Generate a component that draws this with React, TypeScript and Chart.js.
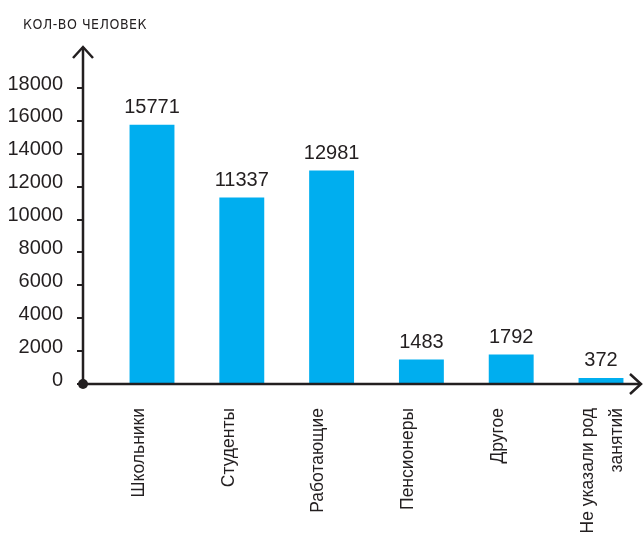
import { useEffect, useRef } from "react";
import { Chart, registerables } from "chart.js";

Chart.register(...registerables);

const axisTitle = "КОЛ-ВО ЧЕЛОВЕК";
const categories: string[][] = [
  ["Школьники"],
  ["Студенты"],
  ["Работающие"],
  ["Пенсионеры"],
  ["Другое"],
  ["Не указали род", "занятий"],
];
const values: number[] = [15771, 11337, 12981, 1483, 1792, 372];
const yMin = 0;
const yMax = 18000;
const yStep = 2000;

const INK = "#231f20";
const BAR = "#00aeef";
const NUM_FONT = "'Liberation Sans', Arial, sans-serif";

const decorPlugin = {
  id: "decor",
  afterDatasetsDraw(chart: any) {
    const { ctx, chartArea, scales } = chart;
    const meta = chart.getDatasetMeta(0);
    ctx.save();
    ctx.fillStyle = INK;
    ctx.font = `20px ${NUM_FONT}`;
    ctx.textAlign = "center";
    ctx.textBaseline = "alphabetic";
    meta.data.forEach((bar: any, i: number) => {
      ctx.fillText(String(values[i]), bar.x, bar.y - 12);
    });

    const x0 = chartArea.left;
    const y0 = scales.y.getPixelForValue(0);
    const yTop = chartArea.top - 41;
    const xEnd = chart.width - 2;
    ctx.strokeStyle = INK;
    ctx.lineWidth = 2.5;
    ctx.lineJoin = "miter";
    ctx.beginPath();
    ctx.moveTo(x0, y0);
    ctx.lineTo(xEnd, y0);
    ctx.moveTo(x0, y0);
    ctx.lineTo(x0, yTop);
    ctx.stroke();
    ctx.beginPath();
    ctx.moveTo(xEnd - 11, y0 - 10);
    ctx.lineTo(xEnd, y0);
    ctx.lineTo(xEnd - 11, y0 + 10);
    ctx.moveTo(x0 - 10, yTop + 11);
    ctx.lineTo(x0, yTop);
    ctx.lineTo(x0 + 10, yTop + 11);
    ctx.stroke();
    ctx.beginPath();
    ctx.arc(x0, y0, 5, 0, Math.PI * 2);
    ctx.fill();
    ctx.restore();
  },
};

export default function App() {
  const ref = useRef<HTMLCanvasElement | null>(null);

  useEffect(() => {
    if (!ref.current) return;
    const pxPerCat = 89.8;
    const leftPx = 83;
    const firstCenter = 152;
    const areaWidth = 643 - 5 - leftPx;
    const xMinVal = -(firstCenter - leftPx) / pxPerCat;
    const xMaxVal = xMinVal + areaWidth / pxPerCat;

    const chart = new Chart(ref.current, {
      type: "bar",
      data: {
        datasets: [
          {
            data: values.map((v, i) => ({ x: i, y: v })),
            backgroundColor: BAR,
            borderWidth: 0,
            barPercentage: 0.5,
            categoryPercentage: 1,
          },
        ],
      },
      options: {
        animation: false,
        responsive: true,
        maintainAspectRatio: false,
        layout: { padding: { left: 0, right: 5, top: 88, bottom: 0 } },
        plugins: {
          legend: { display: false },
          tooltip: { enabled: false },
        },
        scales: {
          x: {
            type: "linear",
            offset: false,
            min: xMinVal,
            max: xMaxVal,
            afterBuildTicks: (scale: any) => {
              scale.ticks = categories.map((_, i) => ({ value: i }));
            },
            afterFit: (scale: any) => {
              scale.height = 149;
              scale.paddingLeft = 0;
              scale.paddingRight = 0;
            },
            grid: { display: false, drawTicks: false, offset: false },
            border: { display: false },
            ticks: {
              autoSkip: false,
              minRotation: 90,
              maxRotation: 90,
              padding: 24,
              labelOffset: -13,
              color: INK,
              font: { family: NUM_FONT, size: 17.5, lineHeight: 1.65 },
              callback: (_v: any, i: number) => categories[i],
            },
          },
          y: {
            min: yMin,
            max: yMax,
            afterFit: (scale: any) => {
              scale.width = 83;
              scale.paddingTop = 0;
              scale.paddingBottom = 0;
            },
            grid: {
              display: true,
              drawOnChartArea: false,
              drawTicks: true,
              tickLength: 6,
              color: INK,
              lineWidth: 2,
            },
            border: { display: false },
            ticks: {
              stepSize: yStep,
              padding: 14,
              labelOffset: -4,
              color: INK,
              font: { family: NUM_FONT, size: 20 },
              callback: (v: any) => String(v),
            },
          },
        },
      },
      plugins: [decorPlugin],
    });
    return () => chart.destroy();
  }, []);

  return (
    <div style={{ position: "absolute", left: 0, top: 0, width: 643, height: 533, background: "#fff" }}>
      <div
        style={{
          position: "absolute",
          left: 23,
          top: 16,
          fontFamily: "'DejaVu Sans Condensed', 'DejaVu Sans', sans-serif",
          fontSize: 14,
          letterSpacing: 0.5,
          color: INK,
          whiteSpace: "nowrap",
          lineHeight: "17px",
        }}
      >
        {axisTitle}
      </div>
      <canvas ref={ref} />
    </div>
  );
}
